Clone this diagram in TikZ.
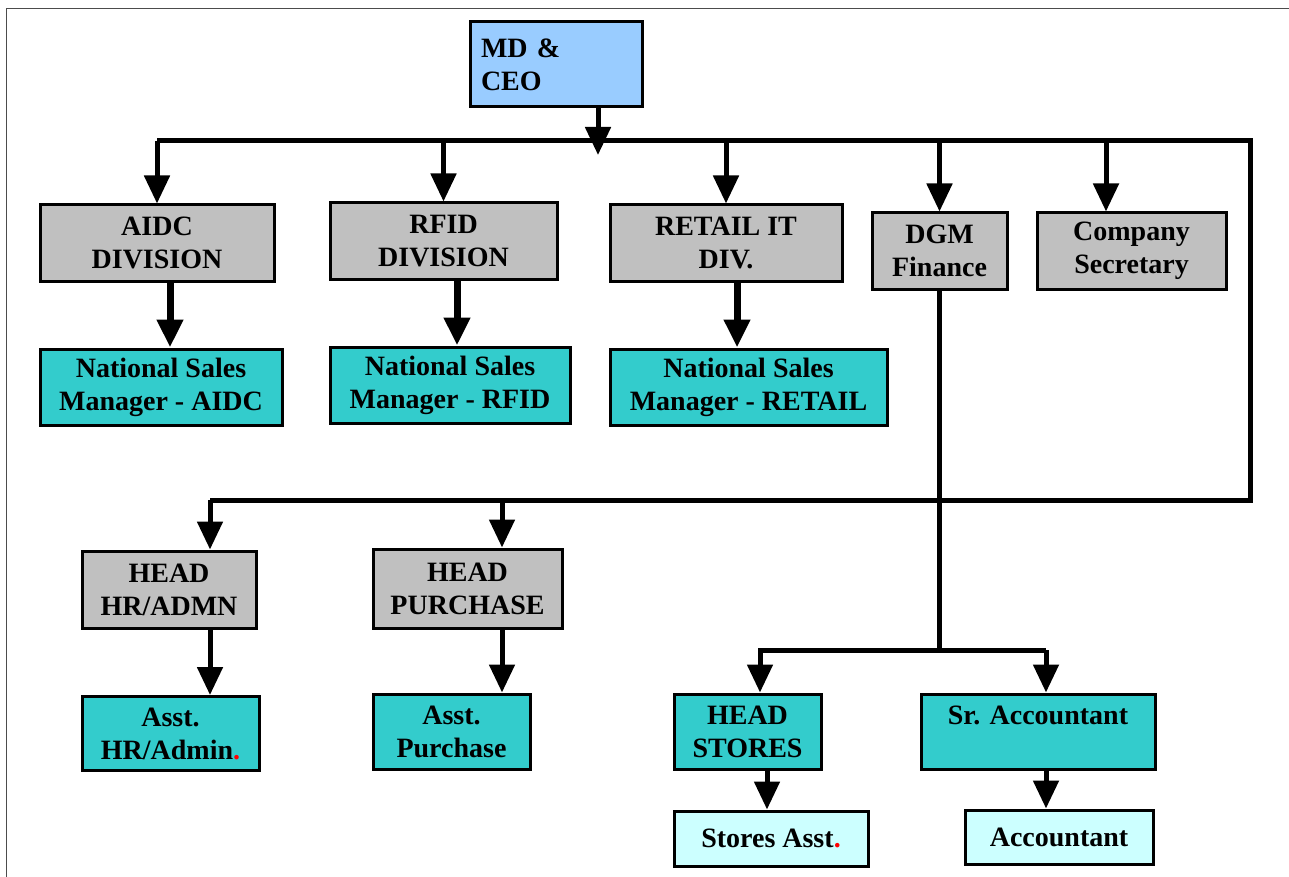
\documentclass[tikz,border=0pt]{standalone}
\usepackage{fontspec}
\setmainfont{Liberation Serif}
\usepackage{tikz}
\usetikzlibrary{arrows.meta, calc}
\definecolor{boxgray}{HTML}{C0C0C0}
\definecolor{boxteal}{HTML}{33CCCC}
\definecolor{boxblue}{HTML}{99CCFF}
\definecolor{boxpale}{HTML}{CCFFFF}
\tikzset{
		chart box/.style={draw, line width=3pt, inner sep=0pt, align=center, font=\fontsize{28}{33}\selectfont\bfseries},
		head box/.style={chart box, fill=boxgray},
		sales box/.style={chart box, fill=boxteal},
		junior box/.style={chart box, fill=boxpale},
		link/.style={line width=5pt},
		link arrow/.style={link, -{Triangle[width=25pt,length=28pt]}},
		heavy arrow/.style={link arrow, line width=7pt}
	}
\begin{document}
\begin{tikzpicture}[x=1pt, y=-1pt, node distance=144pt]
				\useasboundingbox (0,0) rectangle (1289,877);
				\draw[line width=1pt, black!70] (6,877) -- (6,9) -- (1289,9);

				\node[chart box, fill=boxblue, minimum width=172pt, minimum height=85pt, text width=150pt, align=left] (ceo) at (556,64.5) {MD \&\\CEO};

				\node[head box, minimum width=234pt, minimum height=76pt]  (aidc)      at (157,243)      {AIDC\\DIVISION};
				\node[head box, minimum width=227pt, minimum height=76pt]  (rfid)      at (443.5,241)    {RFID\\DIVISION};
				\node[head box, minimum width=232pt, minimum height=76pt]  (retail)    at (726,243)      {RETAIL IT\\DIV.};
				\node[head box, minimum width=135pt, minimum height=76pt]  (dgm)       at (939.5,251)    {DGM\\Finance};
				\node[head box, minimum width=189pt, minimum height=76pt]  (cosec)     at (1131.5,251)   {Company\\Secretary};

				\node[sales box, minimum width=242pt, minimum height=76pt] (nsmaidc)   [below of = aidc, xshift=4pt]      {National Sales\\Manager - AIDC};
				\node[sales box, minimum width=240pt, minimum height=76pt] (nsmrfid)   [below of = rfid, xshift=6.5pt]    {National Sales\\Manager - RFID};
				\node[sales box, minimum width=277pt, minimum height=76pt] (nsmretail) [below of = retail, xshift=22.5pt] {National Sales\\Manager - RETAIL};

				\node[head box, minimum width=174pt, minimum height=77pt]  (hr)        at (169,589.5)    {HEAD\\HR/ADMN};
				\node[head box, minimum width=189pt, minimum height=79pt]  (purch)     at (467.5,588.5)  {HEAD\\PURCHASE};
				\node[sales box, minimum width=177pt, minimum height=74pt] (asthr)     [below of = hr, xshift=1.5pt]    {Asst.\\HR/Admin\textcolor{red}{.}};
				\node[sales box, minimum width=157pt, minimum height=75pt] (astpurch)  [below of = purch, xshift=-16pt, node distance=143pt] {Asst.\\Purchase};

				\node[sales box, minimum width=147pt, minimum height=75pt] (stores)    at (747.5,731.5)  {HEAD\\STORES};
				\node[sales box, minimum width=234pt, minimum height=75pt] (sracc)     at (1038,731.5)   {Sr. Accountant\\\mbox{}};
				\node[junior box, minimum width=194pt, minimum height=55pt] (storesast) [below of = stores, xshift=23.5pt, node distance=107pt] {Stores Asst\textcolor{red}{.}};
				\node[junior box, minimum width=188pt, minimum height=54pt] (acct)      [below of = sracc, xshift=21pt, node distance=105.5pt] {Accountant};

				\coordinate (topL)   at (157,141);
				\coordinate (topR)   at (1250,141);
				\coordinate (midR)   at (1250,500);
				\coordinate (midL)   at (210,500);
				\coordinate (ceotip) at (598,155);
				\coordinate (finL)   at (760,650);
				\coordinate (finR)   at (1046,650);

				\draw[link] (topL) -- (topR) -- (midR) -- (midL);
				\draw[link arrow] ($(ceo.south)+(42,0)$) -- (ceotip);
				\draw[link arrow] (topL) -- (aidc.north);
				\draw[link arrow] (topL -| rfid.north) -- (rfid.north);
				\draw[link arrow] (topL -| retail.north) -- (retail.north);
				\draw[link arrow] (topL -| dgm.north) -- (dgm.north);
				\draw[link arrow] ($(topL -| cosec.north)+(-25.5,0)$) -- ($(cosec.north)+(-25.5,0)$);

				\draw[heavy arrow] ($(aidc.south)+(13,0)$) -- ($(nsmaidc.north)+(9,0)$);
				\draw[heavy arrow] ($(rfid.south)+(13.5,0)$) -- ($(nsmrfid.north)+(7,0)$);
				\draw[heavy arrow] ($(retail.south)+(11,0)$) -- ($(nsmretail.north)+(-11.5,0)$);

				\draw[link arrow] (midL) -- ($(hr.north)+(41,0)$);
				\draw[link arrow] ($(midL -| purch.north)+(34.5,0)$) -- ($(purch.north)+(34.5,0)$);
				\draw[link arrow] ($(hr.south)+(41,0)$) -- ($(asthr.north)+(39.5,0)$);
				\draw[link arrow] ($(purch.south)+(34.5,0)$) -- ($(astpurch.north)+(50.5,0)$);

				\draw[link] (dgm.south) -- (dgm.south |- finL);
				\draw[link arrow] (finR) -- (finL) -- ($(stores.north)+(12.5,0)$);
				\draw[link arrow] (finR) -- ($(sracc.north)+(8,0)$);
				\draw[link arrow] ($(stores.south)+(19.5,0)$) -- ($(storesast.north)+(-4,0)$);
				\draw[link arrow] ($(sracc.south)+(8,0)$) -- ($(acct.north)+(-13,0)$);
			\end{tikzpicture}
\end{document}
